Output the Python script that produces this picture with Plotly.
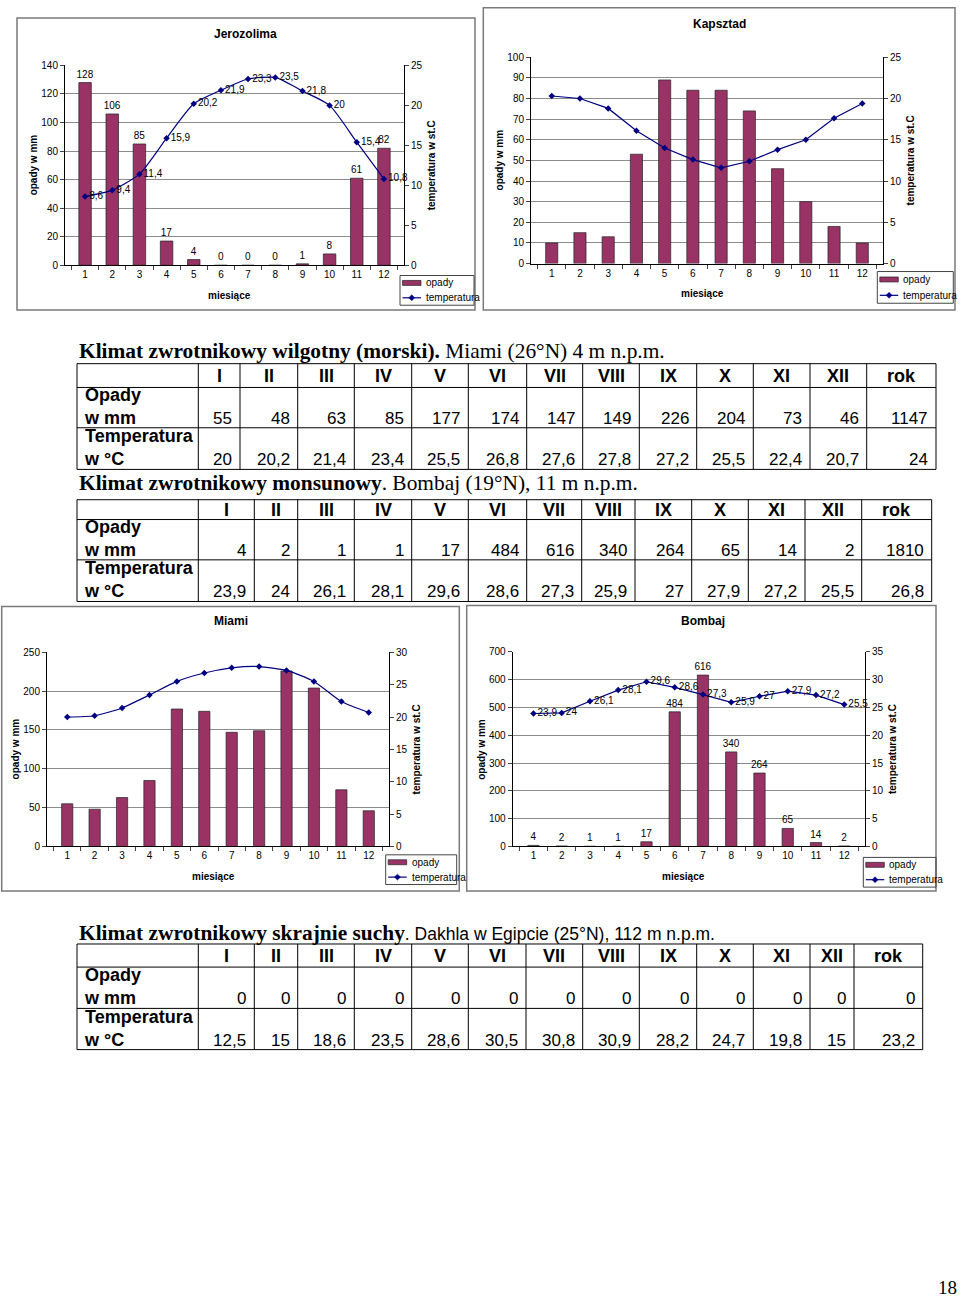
import plotly.graph_objects as go

W, H = 960, 1305
SANS = "Liberation Sans, Arial, sans-serif"
SERIF = "Liberation Serif, Times New Roman, serif"
BAR = "#993366"
NAVY = "#000080"
GRID = "#8c8c8c"
FRAME = "#7a7a7a"

months = [str(m) for m in range(1, 13)]
roman = ["I", "II", "III", "IV", "V", "VI", "VII", "VIII", "IX", "X", "XI", "XII", "rok"]

# Jerozolima
jer_opady = [128, 106, 85, 17, 4, 0, 0, 0, 1, 8, 61, 82]
jer_temp = [8.6, 9.4, 11.4, 15.9, 20.2, 21.9, 23.3, 23.5, 21.8, 20, 15.4, 10.8]

# Kapsztad
kap_opady = [10, 15, 13, 53, 89, 84, 84, 74, 46, 30, 18, 10]
kap_temp = [20.3, 20.0, 18.8, 16.1, 14.0, 12.6, 11.6, 12.4, 13.8, 15.0, 17.6, 19.4]

# Miami
mia_opady = [55, 48, 63, 85, 177, 174, 147, 149, 226, 204, 73, 46]
mia_temp = [20, 20.2, 21.4, 23.4, 25.5, 26.8, 27.6, 27.8, 27.2, 25.5, 22.4, 20.7]
mia_rok = [1147, 24]

# Bombaj
bom_opady = [4, 2, 1, 1, 17, 484, 616, 340, 264, 65, 14, 2]
bom_temp = [23.9, 24, 26.1, 28.1, 29.6, 28.6, 27.3, 25.9, 27, 27.9, 27.2, 25.5]
bom_rok = [1810, 26.8]

# Dakhla
dak_opady = [0, 0, 0, 0, 0, 0, 0, 0, 0, 0, 0, 0]
dak_temp = [12.5, 15, 18.6, 23.5, 28.6, 30.5, 30.8, 30.9, 28.2, 24.7, 19.8, 15]
dak_rok = [0, 23.2]


def fx(p):
    return p / W


def fy(p):
    return 1 - p / H


def fmt(v):
    return f"{v:g}".replace(".", ",")


def axkey(ref):
    return ("xaxis" if ref[0] == "x" else "yaxis") + ref[1:]


fig = go.Figure()
shapes, annotations, layout = [], [], {}


def text(x, y, s, size=10, xanchor="center", yanchor="middle", family=SANS, **kw):
    annotations.append(dict(x=x, y=y, text=s, showarrow=False, xanchor=xanchor, yanchor=yanchor,
                            font=dict(family=family, size=size, color="#000"), **kw))


def legend(x0, y0, x1, y1):
    h = y1 - y0
    shapes.append(dict(type="rect", xref="paper", yref="paper", x0=fx(x0), x1=fx(x1), y0=fy(y1), y1=fy(y0),
                       line=dict(color="#444", width=1)))
    sy = y0 + 0.25 * h
    shapes.append(dict(type="rect", xref="paper", yref="paper", x0=fx(x0 + 2.5), x1=fx(x0 + 21),
                       y0=fy(sy + 2.5), y1=fy(sy - 2.5), fillcolor=BAR, line=dict(color="#222", width=0.7)))
    ly = y0 + 0.75 * h
    shapes.append(dict(type="line", xref="paper", yref="paper", x0=fx(x0 + 2.5), x1=fx(x0 + 21),
                       y0=fy(ly), y1=fy(ly), line=dict(color=NAVY, width=1.2)))
    cx, d = x0 + 11.75, 3
    path = (f"M{fx(cx - d)},{fy(ly)} L{fx(cx)},{fy(ly - d)} L{fx(cx + d)},{fy(ly)} "
            f"L{fx(cx)},{fy(ly + d)} Z")
    shapes.append(dict(type="path", xref="paper", yref="paper", path=path, fillcolor=NAVY,
                       line=dict(color=NAVY, width=0.5)))
    text(fx(x0 + 24), fy(sy), "opady", xanchor="left", xref="paper", yref="paper")
    text(fx(x0 + 24), fy(ly), "temperatura", xanchor="left", xref="paper", yref="paper")


charts = [
    dict(name="Jerozolima", opady=jer_opady, temp=jer_temp, plot=(65, 60, 404, 261.7),
         frame=(17, 12, 475, 306.7), title=(246, 28), yl=(140, 20), yr=(25, 5), bw=0.46,
         labels=True, shape="spline", legend=(400, 272, 474, 302)),
    dict(name="Kapsztad", opady=kap_opady, temp=kap_temp, plot=(531, 51.7, 883, 260),
         frame=(483.3, 1.7, 955, 306.7), title=(719, 18), yl=(100, 10), yr=(25, 5), bw=0.43,
         labels=False, shape="linear", legend=(877.3, 268, 953.3, 300)),
    dict(name="Miami", opady=mia_opady, temp=mia_temp, plot=(47, 652.3, 389, 848.3),
         frame=(1.7, 606, 459.3, 893.3), title=(231, 621), yl=(250, 50), yr=(30, 5), bw=0.41,
         labels=False, shape="spline", legend=(385.7, 856.7, 456.7, 886.7)),
    dict(name="Bombaj", opady=bom_opady, temp=bom_temp, plot=(512.7, 651.7, 865, 848.3),
         frame=(466.7, 605, 936, 893.3), title=(703, 621), yl=(700, 100), yr=(35, 5), bw=0.40,
         labels=True, shape="linear", legend=(863.3, 859.3, 936, 889.3)),
]

tick_font = dict(family=SANS, size=10, color="#000")

for i, c in enumerate(charts):
    n = i + 1
    xa = "x" if n == 1 else f"x{n}"
    ya = "y" if n == 1 else f"y{2 * n - 1}"
    yb = f"y{2 * n}"
    l, t, r, b = c["plot"]

    fig.add_trace(go.Bar(
        x=months, y=c["opady"], xaxis=xa, yaxis=ya, width=c["bw"],
        marker=dict(color=BAR, line=dict(color="#222", width=0.7)),
        text=[fmt(v) for v in c["opady"]] if c["labels"] else None,
        textposition="outside", constraintext="none", cliponaxis=False,
        textfont=dict(family=SANS, size=10, color="#000"), showlegend=False))
    fig.add_trace(go.Scatter(
        x=months, y=c["temp"], xaxis=xa, yaxis=yb,
        mode="lines+markers+text" if c["labels"] else "lines+markers",
        line=dict(color=NAVY, width=1.2, shape=c["shape"], smoothing=0.6),
        marker=dict(symbol="diamond", size=5, color=NAVY),
        text=[fmt(v) for v in c["temp"]] if c["labels"] else None,
        textposition="middle right", cliponaxis=False,
        textfont=dict(family=SANS, size=10, color="#000"), showlegend=False))

    layout[axkey(xa)] = dict(domain=[fx(l), fx(r)], anchor=ya, type="category",
                             tickson="boundaries", ticks="outside", ticklen=4,
                             showline=True, linecolor="#000", linewidth=1,
                             showgrid=False, tickfont=tick_font, fixedrange=True)
    layout[axkey(ya)] = dict(domain=[fy(b), fy(t)], anchor=xa, range=[0, c["yl"][0]],
                             tick0=0, dtick=c["yl"][1], showgrid=True, gridcolor=GRID,
                             gridwidth=1, showline=True, linecolor="#000", linewidth=1,
                             ticks="outside", ticklen=4, zeroline=False, tickfont=tick_font,
                             fixedrange=True)
    layout[axkey(yb)] = dict(overlaying=ya, side="right", anchor=xa, range=[0, c["yr"][0]],
                             tick0=0, dtick=c["yr"][1], showgrid=False, showline=True,
                             linecolor="#000", linewidth=1, ticks="outside", ticklen=4,
                             zeroline=False, tickfont=tick_font, fixedrange=True)

    fl, ft, fr, fb = c["frame"]
    shapes.append(dict(type="rect", xref="paper", yref="paper", x0=fx(fl), x1=fx(fr),
                       y0=fy(fb), y1=fy(ft), line=dict(color=FRAME, width=1.5)))
    text(fx(c["title"][0]), fy(c["title"][1]), f"<b>{c['name']}</b>", size=12,
         xref="paper", yref="paper")
    text(fx(l - 32), fy((t + b) / 2), "<b>opady w mm</b>", textangle=-90,
         xref="paper", yref="paper")
    text(fx(r + 27), fy((t + b) / 2), "<b>temperatura w st.C</b>", textangle=-90,
         xref="paper", yref="paper")
    text(fx((l + r) / 2 - 5), fy(b + 30), "<b>miesiące</b>", xref="paper", yref="paper")
    legend(*c["legend"])

# tabele
tables = [
    dict(head="<b>Klimat zwrotnikowy wilgotny (morski).</b> Miami (26°N) 4 m n.p.m.",
         head_y=348, left=77, top=361,
         cols=[121.3, 41.7, 57.7, 56.6, 57.4, 56.6, 58.4, 56, 56.6, 57.4, 56.6, 56.7, 56.7, 69.3],
         rows=[24, 40.7, 42], opady=mia_opady + mia_rok[:1], temp=mia_temp + mia_rok[1:]),
    dict(head="<b>Klimat zwrotnikowy monsunowy</b>. Bombaj (19°N), 11 m n.p.m.",
         head_y=481, left=77, top=498.3,
         cols=[121.3, 56, 43.4, 56.6, 57.4, 56.6, 58.4, 55, 53.3, 56.7, 56.6, 56.7, 56.7, 70],
         rows=[20, 40.7, 42], opady=bom_opady + bom_rok[:1], temp=bom_temp + bom_rok[1:]),
    dict(head=("<b>Klimat zwrotnikowy skrajnie suchy</b><span style='font-family:Liberation Sans, Arial;"
               "font-size:17.5px'>. Dakhla w Egipcie (25°N), 112 m n.p.m.</span>"),
         head_y=936, left=77, top=946.7,
         cols=[121.3, 56, 43.4, 56.6, 57.4, 56.6, 57.7, 56.7, 56.6, 57.4, 56.6, 56.7, 44, 68.7],
         rows=[23.3, 41.7, 41.6], opady=dak_opady + dak_rok[:1], temp=dak_temp + dak_rok[1:]),
]

PAD = 12  # zapas zakresu osi tabeli, żeby tekst przy krawędzi nie był ukrywany
for k, tb in enumerate(tables):
    xr, yr = f"x{5 + k}", f"y{9 + k}"
    xs = [0]
    for w in tb["cols"]:
        xs.append(xs[-1] + w)
    ys = [0]
    for h in tb["rows"]:
        ys.append(ys[-1] + h)
    wt, ht = xs[-1], ys[-1]
    left, top = tb["left"], tb["top"]
    layout[axkey(xr)] = dict(domain=[fx(left - PAD), fx(left + wt + PAD)], range=[-PAD, wt + PAD],
                             visible=False, anchor=yr, fixedrange=True)
    layout[axkey(yr)] = dict(domain=[fy(top + ht + PAD), fy(top - PAD)], range=[ht + PAD, -PAD],
                             visible=False, anchor=xr, fixedrange=True)
    line = dict(color="#000", width=1)
    for xv in xs:
        shapes.append(dict(type="line", xref=xr, yref=yr, x0=xv, x1=xv, y0=0, y1=ht, line=line))
    for yv in ys:
        shapes.append(dict(type="line", xref=xr, yref=yr, x0=0, x1=wt, y0=yv, y1=yv, line=line))

    text(fx(left), fy(tb["head_y"]), tb["head"], size=21.4, family=SERIF, xanchor="left",
         xref="paper", yref="paper")
    for j, lab in enumerate(roman):
        text((xs[j + 1] + xs[j + 2]) / 2, ys[1] / 2, f"<b>{lab}</b>", size=18, xref=xr, yref=yr)
    text(5, ys[2] + 2, "<b>Opady<br>w mm</b>", size=18, xanchor="left", yanchor="bottom",
         align="left", xref=xr, yref=yr)
    text(5, ys[3] + 2, "<b>Temperatura<br>w °C</b>", size=18, xanchor="left", yanchor="bottom",
         align="left", xref=xr, yref=yr)
    for j, v in enumerate(tb["opady"]):
        text(xs[j + 2] - 6, ys[2] + 2, fmt(v), size=17, xanchor="right", yanchor="bottom",
             xref=xr, yref=yr)
    for j, v in enumerate(tb["temp"]):
        text(xs[j + 2] - 6, ys[3] + 2, fmt(v), size=17, xanchor="right", yanchor="bottom",
             xref=xr, yref=yr)

text(fx(959), fy(1293), "18", size=19, family=SERIF, xanchor="right", xref="paper", yref="paper")

fig.update_layout(
    width=W, height=H, margin=dict(l=0, r=0, t=0, b=0),
    paper_bgcolor="white", plot_bgcolor="rgba(0,0,0,0)",
    font=dict(family=SANS, size=10, color="#000"),
    showlegend=False, shapes=shapes, annotations=annotations, **layout)

# wykres przypięty do lewego górnego rogu okna, bez marginesów strony
pin = ("var gd=document.getElementById('{plot_id}');"
       "gd.style.position='fixed';gd.style.top='0px';gd.style.left='0px';"
       "document.body.style.margin='0px';document.body.style.overflow='hidden';"
       "document.documentElement.style.overflow='hidden';")
fig.write_html("out.html", config={"displayModeBar": False}, post_script=pin)
